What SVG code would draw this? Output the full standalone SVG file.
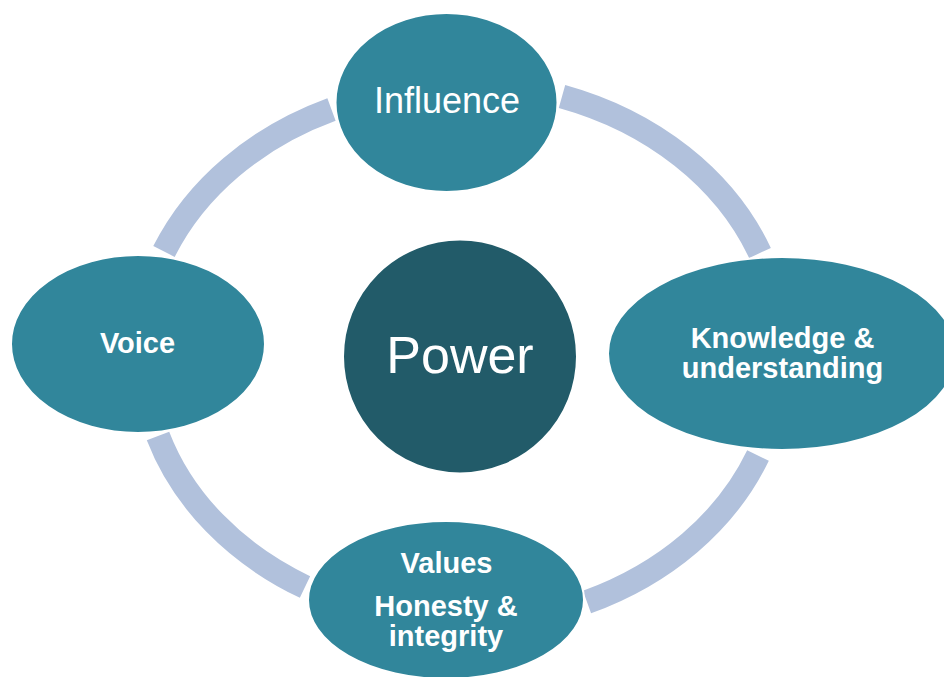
<svg xmlns="http://www.w3.org/2000/svg" width="944" height="677" viewBox="0 0 944 677">
<style>
.ring{fill:none;stroke:#B1C1DC;stroke-width:24;stroke-linecap:butt}
.node{fill:#31869B;stroke:#FFFFFF;stroke-width:2}
.core{fill:#225B69;stroke:#FFFFFF;stroke-width:2}
.t{fill:#FFFFFF;font-family:"Liberation Sans",Arial,sans-serif;text-anchor:middle}
.b{font-weight:bold;font-size:29px}
</style>
<rect width="944" height="677" fill="#FFFFFF"/>
<g id="connectors">
<path class="ring" d="M164,251.5 A322,268 0 0 1 331.5,109.5"/>
<path class="ring" d="M562,96.5 A322,268 0 0 1 760,253"/>
<path class="ring" d="M758,455.5 A322,268 0 0 1 587,602"/>
<path class="ring" d="M305,587 A322,268 0 0 1 158,436"/>
</g>
<g id="node-power">
<circle class="core" cx="460" cy="356.5" r="117"/>
<text class="t" x="460" y="373" font-size="52">Power</text>
</g>
<g id="node-influence">
<ellipse class="node" cx="446.5" cy="102.5" rx="111" ry="89.5"/>
<text class="t" x="447" y="113" font-size="36">Influence</text>
</g>
<g id="node-knowledge">
<ellipse class="node" cx="782" cy="353.5" rx="174" ry="96.5"/>
<text class="t b" x="782.5" y="348">Knowledge &amp;</text>
<text class="t b" x="782.5" y="378">understanding</text>
</g>
<g id="node-values">
<ellipse class="node" cx="446" cy="600" rx="138" ry="79"/>
<text class="t b" x="446.5" y="573">Values</text>
<text class="t b" x="446" y="616">Honesty &amp;</text>
<text class="t b" x="446" y="646">integrity</text>
</g>
<g id="node-voice">
<ellipse class="node" cx="138" cy="344" rx="127" ry="89"/>
<text class="t b" x="137.5" y="353">Voice</text>
</g>
</svg>
